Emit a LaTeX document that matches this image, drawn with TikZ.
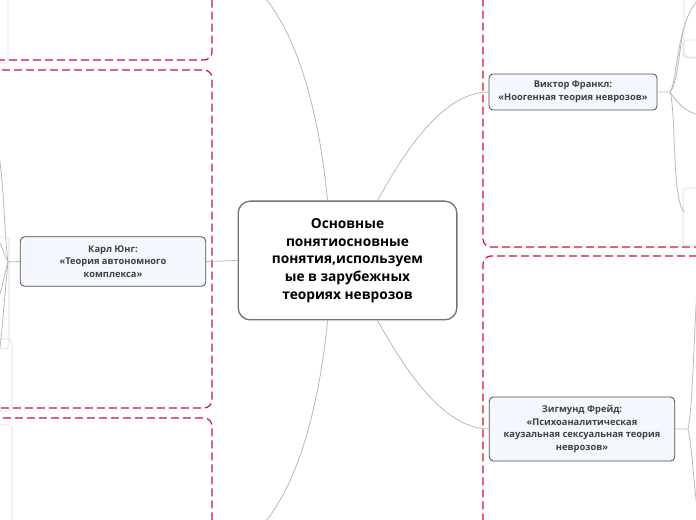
\documentclass[tikz,border=0pt]{standalone}
\usepackage{fontspec}
\setmainfont{Open Sans}
\definecolor{zonered}{RGB}{204,20,52}
\definecolor{topicfill}{RGB}{244,248,254}
\begin{document}
\begin{tikzpicture}[x=0.75pt, y=-0.75pt,
  central/.style={draw=black!55, line width=1pt, rounded corners=9pt, fill=white, align=center, font=\bfseries\fontsize{10.3}{13.3}\selectfont},
  topic/.style={draw=black!70, line width=0.6pt, rounded corners=3pt, fill=topicfill, align=center, text=black!75, font=\bfseries\fontsize{7}{9.5}\selectfont},
  zone/.style={draw=zonered, dashed, dash pattern=on 6pt off 3pt, line width=0.9pt, rounded corners=6pt},
  link/.style={draw=black!28, line width=0.6pt},
  leaf/.style={draw=black!15, line width=0.5pt, rounded corners=3pt}
]
\useasboundingbox (0,0) rectangle (696,520);

% Dashed zones
\draw[zone] (-10,-10) -- (212,-10) -- (212,60) -- (-10,60);
\draw[zone] (-10,70) -- (212,70) -- (212,408) -- (-10,408);
\draw[zone] (-10,530) -- (212,530) -- (212,418) -- (-10,418);
\draw[zone] (706,-10) -- (483,-10) -- (483,247) -- (706,247);
\draw[zone] (706,530) -- (483,530) -- (483,256) -- (706,256);

% Leaves at the edges
\draw[leaf] (-10,-10) rectangle (8,63);
\draw[leaf] (-10,237) rectangle (9,349);
\draw[leaf] (-10,339) rectangle (12,411);
\draw[leaf] (-10,425) rectangle (12,530);
\draw[leaf] (684,-10) rectangle (706,57);
\draw[leaf] (683,40) rectangle (706,58);
\draw[leaf] (683,188) rectangle (706,246);

% Nodes
\node[central, minimum width=164pt, minimum height=89pt] (C) at (347.5,260.5)
  {Основные\\понятиосновные\\понятия,используем\\ые в зарубежных\\теориях неврозов};
\node[topic, minimum width=139pt, minimum height=37pt] (J) at (113,261.5)
  {Карл Юнг:\\«Теория автономного\\комплекса»};
\node[topic, minimum width=126pt, minimum height=27pt] (F) at (573,92)
  {Виктор Франкл:\\«Ноогенная теория неврозов»};
\node[topic, minimum width=139pt, minimum height=48pt] (Z) at (582,429)
  {Зигмунд Фрейд:\\«Психоаналитическая\\каузальная сексуальная теория\\неврозов»};

% Edges
\coordinate (up) at (265,-2);
\coordinate (down) at (265,522);
\draw[link] (C.west) -- (J.east);
\draw[link] (C.north) ++(30,0) .. controls (400,160) and (440,92) .. (F.west);
\draw[link] (C.south) ++(30,0) .. controls (400,360) and (440,429) .. (Z.west);
\draw[link] (C.north) ++(-20,0) .. controls (320,120) and (300,40) .. (up);
\draw[link] (C.south) ++(-20,0) .. controls (320,400) and (300,480) .. (down);

% Branches leaving the frame
\coordinate (f1) at (700,-2);
\coordinate (f2) at (684,28);
\coordinate (f3) at (700,115);
\coordinate (f4) at (684,212);
\draw[link] (F.east) -- (670,92) .. controls (678,80) and (676,20) .. (f1);
\draw[link] (670,92) .. controls (678,85) and (680,40) .. (f2);
\draw[link] (670,92) .. controls (675,100) and (685,113) .. (f3);
\draw[link] (670,92) .. controls (676,110) and (672,200) .. (f4);
\coordinate (z1) at (700,260);
\coordinate (z2) at (700,522);
\draw[link] (Z.east) -- (688,429) .. controls (694,400) and (694,300) .. (z1);
\draw[link] (688,429) .. controls (694,460) and (694,500) .. (z2);
\coordinate (j1) at (-2,150);
\coordinate (j2) at (-2,240);
\coordinate (j3) at (-2,300);
\coordinate (j4) at (-2,360);
\draw[link] (J.west) -- (8,262) .. controls (4,230) and (4,180) .. (j1);
\draw[link] (8,262) .. controls (4,255) and (2,245) .. (j2);
\draw[link] (8,262) .. controls (4,275) and (2,290) .. (j3);
\draw[link] (8,262) .. controls (4,300) and (2,340) .. (j4);
\end{tikzpicture}
\end{document}
